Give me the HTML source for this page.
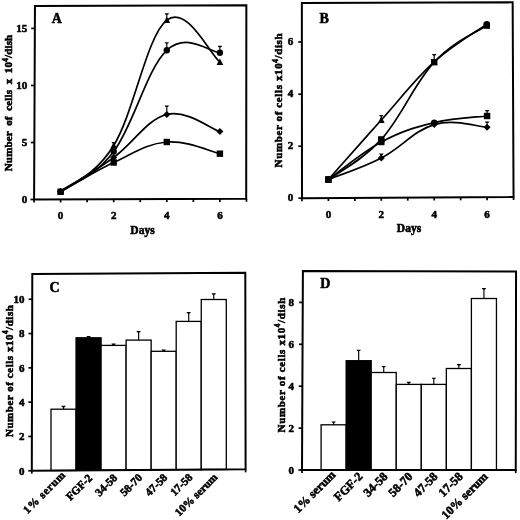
<!DOCTYPE html>
<html><head><meta charset="utf-8"><style>
html,body{margin:0;padding:0;background:#fff;width:520px;height:520px;overflow:hidden;}
svg{display:block;filter:blur(0.35px);}
</style></head><body>
<svg width="520" height="520" viewBox="0 0 520 520">
<rect width="520" height="520" fill="#fff"/>
<path d="M34.95,5.95 L246.35,5.2 L246.2,198.8 L34.1,199.55 Z" stroke="#000" stroke-width="2" fill="none" stroke-linejoin="miter"/>
<path d="M30.5,199.5 H34.1" stroke="#000" stroke-width="1.7"/>
<text x="27.2" y="203.2" font-size="11" text-anchor="end" font-family="Liberation Serif, serif" font-weight="bold" stroke="#000" stroke-width="0.55" >0</text>
<path d="M30.75,142.5 H34.35" stroke="#000" stroke-width="1.7"/>
<text x="27.2" y="146.2" font-size="11" text-anchor="end" font-family="Liberation Serif, serif" font-weight="bold" stroke="#000" stroke-width="0.55" >5</text>
<path d="M31,85.5 H34.6" stroke="#000" stroke-width="1.7"/>
<text x="27.2" y="89.2" font-size="11" text-anchor="end" font-family="Liberation Serif, serif" font-weight="bold" stroke="#000" stroke-width="0.55" >10</text>
<path d="M31.25,28.4 H34.85" stroke="#000" stroke-width="1.7"/>
<text x="27.2" y="32.1" font-size="11" text-anchor="end" font-family="Liberation Serif, serif" font-weight="bold" stroke="#000" stroke-width="0.55" >15</text>
<path d="M34.05,199.55 V202.55" stroke="#000" stroke-width="1.7"/>
<path d="M60.6,199.46 V202.46" stroke="#000" stroke-width="1.7"/>
<path d="M87.15,199.36 V202.36" stroke="#000" stroke-width="1.7"/>
<path d="M113.7,199.27 V202.27" stroke="#000" stroke-width="1.7"/>
<path d="M140.25,199.17 V202.17" stroke="#000" stroke-width="1.7"/>
<path d="M166.8,199.08 V202.08" stroke="#000" stroke-width="1.7"/>
<path d="M193.35,198.99 V201.99" stroke="#000" stroke-width="1.7"/>
<path d="M219.9,198.89 V201.89" stroke="#000" stroke-width="1.7"/>
<path d="M246.45,198.8 V201.8" stroke="#000" stroke-width="1.7"/>
<text x="60.6" y="218.8" font-size="11" text-anchor="middle" font-family="Liberation Serif, serif" font-weight="bold" stroke="#000" stroke-width="0.55" >0</text>
<text x="113.7" y="218.8" font-size="11" text-anchor="middle" font-family="Liberation Serif, serif" font-weight="bold" stroke="#000" stroke-width="0.55" >2</text>
<text x="166.8" y="218.8" font-size="11" text-anchor="middle" font-family="Liberation Serif, serif" font-weight="bold" stroke="#000" stroke-width="0.55" >4</text>
<text x="219.9" y="218.8" font-size="11" text-anchor="middle" font-family="Liberation Serif, serif" font-weight="bold" stroke="#000" stroke-width="0.55" >6</text>
<text x="142.5" y="233.5" font-size="11.5" text-anchor="middle" font-family="Liberation Serif, serif" font-weight="bold" stroke="#000" stroke-width="0.55" >Days</text>
<text x="51.8" y="22.8" font-size="14" text-anchor="start" font-family="Liberation Serif, serif" font-weight="bold" stroke="#000" stroke-width="0.55" >A</text>
<text transform="translate(12.4,103) rotate(-90)" font-size="11" text-anchor="middle" font-family="Liberation Serif, serif" font-weight="bold" stroke="#000" stroke-width="0.55" word-spacing="2.6" textLength="136.5" lengthAdjust="spacing">Number of cells x 10<tspan dy="-4.3" font-size="7.2">4</tspan><tspan dy="4.3">/dish</tspan></text>
<path d="M60.6,191.6 C70.69,182.84 93.52,178.07 113.7,145.5 C133.88,112.93 146.62,36.05 166.8,20.2 C186.98,4.35 209.81,54.14 219.9,62.1" stroke="#000" stroke-width="1.7" fill="none"/>
<path d="M60.6,191.6 C70.69,183.98 93.52,178.35 113.7,151.5 C133.88,124.65 146.62,69.07 166.8,50.3 C186.98,31.53 209.81,52.24 219.9,52.7" stroke="#000" stroke-width="1.7" fill="none"/>
<path d="M60.6,191.6 C70.69,185.12 93.52,172.15 113.7,157.5 C133.88,142.85 146.62,119.42 166.8,114.5 C186.98,109.58 209.81,128.35 219.9,131.6" stroke="#000" stroke-width="1.7" fill="none"/>
<path d="M60.6,191.8 C70.69,186.23 93.52,171.96 113.7,162.5 C133.88,153.04 146.62,143.67 166.8,142 C186.98,140.33 209.81,151.48 219.9,153.7" stroke="#000" stroke-width="1.7" fill="none"/>
<path d="M166.8,20.2 V14.05" stroke="#000" stroke-width="1.15" fill="none"/><path d="M164.6,13.35 H169 L168.12,14.75 H165.48 Z" fill="#000"/>
<path d="M166.8,50.3 V42.9" stroke="#000" stroke-width="1.15" fill="none"/><path d="M164.6,42.2 H169 L168.12,43.6 H165.48 Z" fill="#000"/>
<path d="M219.9,52.7 V46.5" stroke="#000" stroke-width="1.15" fill="none"/><path d="M217.7,45.8 H222.1 L221.22,47.2 H218.58 Z" fill="#000"/>
<path d="M166.8,114.5 V106.2" stroke="#000" stroke-width="1.15" fill="none"/><path d="M164.6,105.5 H169 L168.12,106.9 H165.48 Z" fill="#000"/>
<path d="M113.7,145.5 V142.7" stroke="#000" stroke-width="1.15" fill="none"/><path d="M111.5,142 H115.9 L115.02,143.4 H112.38 Z" fill="#000"/>
<path d="M60.6,188.08 L63.96,194.48 L57.24,194.48 Z"/>
<path d="M113.7,141.98 L117.06,148.38 L110.34,148.38 Z"/>
<path d="M166.8,16.68 L170.16,23.08 L163.44,23.08 Z"/>
<path d="M219.9,58.58 L223.26,64.98 L216.54,64.98 Z"/>
<circle cx="60.6" cy="191.6" r="3.2"/>
<circle cx="113.7" cy="151.5" r="3.2"/>
<circle cx="166.8" cy="50.3" r="3.2"/>
<circle cx="219.9" cy="52.7" r="3.2"/>
<path d="M60.6,188.08 L64.12,191.6 L60.6,195.12 L57.08,191.6 Z"/>
<path d="M113.7,153.98 L117.22,157.5 L113.7,161.02 L110.18,157.5 Z"/>
<path d="M166.8,110.98 L170.32,114.5 L166.8,118.02 L163.28,114.5 Z"/>
<path d="M219.9,128.08 L223.42,131.6 L219.9,135.12 L216.38,131.6 Z"/>
<rect x="57.4" y="188.6" width="6.4" height="6.4"/>
<rect x="110.5" y="159.3" width="6.4" height="6.4"/>
<rect x="163.6" y="138.8" width="6.4" height="6.4"/>
<rect x="216.7" y="150.5" width="6.4" height="6.4"/>
<path d="M301.85,3 L512.65,2.3 L513.55,197.05 L302,198.2 Z" stroke="#000" stroke-width="2" fill="none" stroke-linejoin="miter"/>
<path d="M298.4,198.2 H302" stroke="#000" stroke-width="1.7"/>
<text x="293.3" y="201.2" font-size="11" text-anchor="end" font-family="Liberation Serif, serif" font-weight="bold" stroke="#000" stroke-width="0.55" >0</text>
<path d="M298.36,146.2 H301.96" stroke="#000" stroke-width="1.7"/>
<text x="293.3" y="149.2" font-size="11" text-anchor="end" font-family="Liberation Serif, serif" font-weight="bold" stroke="#000" stroke-width="0.55" >2</text>
<path d="M298.32,94.2 H301.92" stroke="#000" stroke-width="1.7"/>
<text x="293.3" y="97.2" font-size="11" text-anchor="end" font-family="Liberation Serif, serif" font-weight="bold" stroke="#000" stroke-width="0.55" >4</text>
<path d="M298.28,42 H301.88" stroke="#000" stroke-width="1.7"/>
<text x="293.3" y="45" font-size="11" text-anchor="end" font-family="Liberation Serif, serif" font-weight="bold" stroke="#000" stroke-width="0.55" >6</text>
<path d="M301.95,198.2 V201.2" stroke="#000" stroke-width="1.7"/>
<path d="M328.4,198.06 V201.06" stroke="#000" stroke-width="1.7"/>
<path d="M354.85,197.91 V200.91" stroke="#000" stroke-width="1.7"/>
<path d="M381.3,197.77 V200.77" stroke="#000" stroke-width="1.7"/>
<path d="M407.75,197.63 V200.63" stroke="#000" stroke-width="1.7"/>
<path d="M434.2,197.48 V200.48" stroke="#000" stroke-width="1.7"/>
<path d="M460.65,197.34 V200.34" stroke="#000" stroke-width="1.7"/>
<path d="M487.1,197.19 V200.19" stroke="#000" stroke-width="1.7"/>
<path d="M513.55,197.05 V200.05" stroke="#000" stroke-width="1.7"/>
<text x="328.4" y="217.7" font-size="11" text-anchor="middle" font-family="Liberation Serif, serif" font-weight="bold" stroke="#000" stroke-width="0.55" >0</text>
<text x="381.3" y="217.7" font-size="11" text-anchor="middle" font-family="Liberation Serif, serif" font-weight="bold" stroke="#000" stroke-width="0.55" >2</text>
<text x="434.2" y="217.7" font-size="11" text-anchor="middle" font-family="Liberation Serif, serif" font-weight="bold" stroke="#000" stroke-width="0.55" >4</text>
<text x="487.1" y="217.7" font-size="11" text-anchor="middle" font-family="Liberation Serif, serif" font-weight="bold" stroke="#000" stroke-width="0.55" >6</text>
<text x="409" y="232.2" font-size="11.5" text-anchor="middle" font-family="Liberation Serif, serif" font-weight="bold" stroke="#000" stroke-width="0.55" >Days</text>
<text x="319.6" y="22.6" font-size="14" text-anchor="start" font-family="Liberation Serif, serif" font-weight="bold" stroke="#000" stroke-width="0.55" >B</text>
<text transform="translate(282.3,100.4) rotate(-90)" font-size="11" text-anchor="middle" font-family="Liberation Serif, serif" font-weight="bold" stroke="#000" stroke-width="0.55" word-spacing="0" textLength="134" lengthAdjust="spacing">Number of cells x10<tspan dy="-4.3" font-size="7.2">4</tspan><tspan dy="4.3">/dish</tspan></text>
<path d="M328.4,179.5 C338.45,168.19 361.2,142.34 381.3,120 C401.4,97.66 414.15,80.1 434.2,61.9 C454.25,43.7 476.81,31.36 486.8,24.2" stroke="#000" stroke-width="1.7" fill="none"/>
<path d="M328.4,179.5 C338.45,171.88 361.2,161.69 381.3,139.4 C401.4,117.11 414.15,83.82 434.2,62.2 C454.25,40.58 476.81,32.55 486.8,25.6" stroke="#000" stroke-width="1.7" fill="none"/>
<path d="M328.4,179.5 C338.45,172.38 361.2,152.81 381.3,142 C401.4,131.19 414.1,127.54 434.2,122.6 C454.3,117.66 477.05,117.25 487.1,116" stroke="#000" stroke-width="1.7" fill="none"/>
<path d="M328.4,179.5 C338.45,175.41 361.2,168.43 381.3,158 C401.4,147.57 414.1,130.45 434.2,124.6 C454.3,118.75 477.05,126.71 487.1,127.2" stroke="#000" stroke-width="1.7" fill="none"/>
<path d="M434.2,61.9 V54.8" stroke="#000" stroke-width="1.15" fill="none"/><path d="M432,54.1 H436.4 L435.52,55.5 H432.88 Z" fill="#000"/>
<path d="M381.3,120.2 V115.7" stroke="#000" stroke-width="1.15" fill="none"/><path d="M379.1,115 H383.5 L382.62,116.4 H379.98 Z" fill="#000"/>
<path d="M487.1,116 V110.7" stroke="#000" stroke-width="1.15" fill="none"/><path d="M484.9,110 H489.3 L488.42,111.4 H485.78 Z" fill="#000"/>
<path d="M487.1,127.2 V122.2" stroke="#000" stroke-width="1.15" fill="none"/><path d="M484.9,121.5 H489.3 L488.42,122.9 H485.78 Z" fill="#000"/>
<path d="M381.3,157.9 V154.2" stroke="#000" stroke-width="1.15" fill="none"/><path d="M379.1,153.5 H383.5 L382.62,154.9 H379.98 Z" fill="#000"/>
<path d="M328.4,175.98 L331.76,182.38 L325.04,182.38 Z"/>
<path d="M381.3,116.48 L384.66,122.88 L377.94,122.88 Z"/>
<path d="M434.2,58.38 L437.56,64.78 L430.84,64.78 Z"/>
<circle cx="486.8" cy="24.2" r="3.2"/>
<rect x="325.2" y="176.3" width="6.4" height="6.4"/>
<rect x="378.1" y="136.2" width="6.4" height="6.4"/>
<rect x="431" y="59" width="6.4" height="6.4"/>
<rect x="483.6" y="22.4" width="6.4" height="6.4"/>
<rect x="325.2" y="176.3" width="6.4" height="6.4"/>
<rect x="378.1" y="138.8" width="6.4" height="6.4"/>
<circle cx="434.2" cy="122.6" r="3.2"/>
<rect x="483.9" y="112.8" width="6.4" height="6.4"/>
<path d="M328.4,175.98 L331.92,179.5 L328.4,183.02 L324.88,179.5 Z"/>
<path d="M381.3,154.48 L384.82,158 L381.3,161.52 L377.78,158 Z"/>
<path d="M434.2,121.08 L437.72,124.6 L434.2,128.12 L430.68,124.6 Z"/>
<path d="M487.1,123.68 L490.62,127.2 L487.1,130.72 L483.58,127.2 Z"/>
<rect x="51" y="409.2" width="25.04" height="61.26" fill="#fff" stroke="#000" stroke-width="1.3"/>
<path d="M63.52,409.2 V406.5" stroke="#000" stroke-width="1.15" fill="none"/><path d="M61.32,405.8 H65.72 L64.84,407.2 H62.2 Z" fill="#000"/>
<rect x="76.04" y="337.8" width="25.04" height="132.5" fill="#000" stroke="#000" stroke-width="1.3"/>
<path d="M88.56,337.8 V336.6" stroke="#000" stroke-width="1.15" fill="none"/><path d="M86.36,335.9 H90.76 L89.88,337.3 H87.24 Z" fill="#000"/>
<rect x="101.08" y="345.4" width="25.04" height="124.75" fill="#fff" stroke="#000" stroke-width="1.3"/>
<path d="M113.6,345.4 V344.2" stroke="#000" stroke-width="1.15" fill="none"/><path d="M111.4,343.5 H115.8 L114.92,344.9 H112.28 Z" fill="#000"/>
<rect x="126.12" y="340.1" width="25.04" height="129.9" fill="#fff" stroke="#000" stroke-width="1.3"/>
<path d="M138.64,340.1 V331.8" stroke="#000" stroke-width="1.15" fill="none"/><path d="M136.44,331.1 H140.84 L139.96,332.5 H137.32 Z" fill="#000"/>
<rect x="151.16" y="351.3" width="25.04" height="118.55" fill="#fff" stroke="#000" stroke-width="1.3"/>
<path d="M163.68,351.3 V350.2" stroke="#000" stroke-width="1.15" fill="none"/><path d="M161.48,349.5 H165.88 L165,350.9 H162.36 Z" fill="#000"/>
<rect x="176.2" y="321.4" width="25.04" height="148.3" fill="#fff" stroke="#000" stroke-width="1.3"/>
<path d="M188.72,321.4 V312.7" stroke="#000" stroke-width="1.15" fill="none"/><path d="M186.52,312 H190.92 L190.04,313.4 H187.4 Z" fill="#000"/>
<rect x="201.24" y="299.5" width="25.04" height="170.04" fill="#fff" stroke="#000" stroke-width="1.3"/>
<path d="M213.76,299.5 V294" stroke="#000" stroke-width="1.15" fill="none"/><path d="M211.56,293.3 H215.96 L215.08,294.7 H212.44 Z" fill="#000"/>
<path d="M32.3,274.05 L245.3,272.8 L245.6,469.35 L31.8,470.65 Z" stroke="#000" stroke-width="2" fill="none" stroke-linejoin="miter"/>
<path d="M31.8,470.65 V473.65" stroke="#000" stroke-width="1.7"/>
<path d="M245.6,469.35 V472.35" stroke="#000" stroke-width="1.7"/>
<path d="M28.2,470.75 H31.8" stroke="#000" stroke-width="1.7"/>
<text x="24.4" y="474.55" font-size="11" text-anchor="end" font-family="Liberation Serif, serif" font-weight="bold" stroke="#000" stroke-width="0.55" >0</text>
<path d="M28.29,436.45 H31.89" stroke="#000" stroke-width="1.7"/>
<text x="24.4" y="440.25" font-size="11" text-anchor="end" font-family="Liberation Serif, serif" font-weight="bold" stroke="#000" stroke-width="0.55" >2</text>
<path d="M28.37,402.15 H31.97" stroke="#000" stroke-width="1.7"/>
<text x="24.4" y="405.95" font-size="11" text-anchor="end" font-family="Liberation Serif, serif" font-weight="bold" stroke="#000" stroke-width="0.55" >4</text>
<path d="M28.46,367.85 H32.06" stroke="#000" stroke-width="1.7"/>
<text x="24.4" y="371.65" font-size="11" text-anchor="end" font-family="Liberation Serif, serif" font-weight="bold" stroke="#000" stroke-width="0.55" >6</text>
<path d="M28.55,333.55 H32.15" stroke="#000" stroke-width="1.7"/>
<text x="24.4" y="337.35" font-size="11" text-anchor="end" font-family="Liberation Serif, serif" font-weight="bold" stroke="#000" stroke-width="0.55" >8</text>
<path d="M28.64,299.25 H32.24" stroke="#000" stroke-width="1.7"/>
<text x="24.4" y="303.05" font-size="11" text-anchor="end" font-family="Liberation Serif, serif" font-weight="bold" stroke="#000" stroke-width="0.55" >10</text>
<text x="49.4" y="291.8" font-size="14" text-anchor="start" font-family="Liberation Serif, serif" font-weight="bold" stroke="#000" stroke-width="0.55" >C</text>
<text transform="translate(12.7,371.1) rotate(-90)" font-size="11" text-anchor="middle" font-family="Liberation Serif, serif" font-weight="bold" stroke="#000" stroke-width="0.55" word-spacing="0" textLength="132" lengthAdjust="spacing">Number of cells x10<tspan dy="-4.3" font-size="7.2">4</tspan><tspan dy="4.3">/dish</tspan></text>
<text transform="translate(65.92,475.84) rotate(-45)" font-size="11.2" text-anchor="end" font-family="Liberation Serif, serif" font-weight="bold" stroke="#000" stroke-width="0.55" textLength="54.2">1% serum</text>
<text transform="translate(92.96,478.68) rotate(-45)" font-size="11.2" text-anchor="end" font-family="Liberation Serif, serif" font-weight="bold" stroke="#000" stroke-width="0.55">FGF-2</text>
<text transform="translate(118,478.53) rotate(-45)" font-size="11.2" text-anchor="end" font-family="Liberation Serif, serif" font-weight="bold" stroke="#000" stroke-width="0.55">34-58</text>
<text transform="translate(143.04,478.37) rotate(-45)" font-size="11.2" text-anchor="end" font-family="Liberation Serif, serif" font-weight="bold" stroke="#000" stroke-width="0.55">58-70</text>
<text transform="translate(168.08,478.22) rotate(-45)" font-size="11.2" text-anchor="end" font-family="Liberation Serif, serif" font-weight="bold" stroke="#000" stroke-width="0.55">47-58</text>
<text transform="translate(193.12,478.07) rotate(-45)" font-size="11.2" text-anchor="end" font-family="Liberation Serif, serif" font-weight="bold" stroke="#000" stroke-width="0.55">17-58</text>
<text transform="translate(218.16,477.92) rotate(-45)" font-size="11.2" text-anchor="end" font-family="Liberation Serif, serif" font-weight="bold" stroke="#000" stroke-width="0.55">10% serum</text>
<rect x="321.1" y="424.8" width="25.05" height="45.16" fill="#fff" stroke="#000" stroke-width="1.3"/>
<path d="M333.62,424.8 V422.1" stroke="#000" stroke-width="1.15" fill="none"/><path d="M331.43,421.4 H335.82 L334.94,422.8 H332.31 Z" fill="#000"/>
<rect x="346.15" y="360.7" width="25.05" height="109.26" fill="#000" stroke="#000" stroke-width="1.3"/>
<path d="M358.68,360.7 V350.4" stroke="#000" stroke-width="1.15" fill="none"/><path d="M356.48,349.7 H360.88 L360,351.1 H357.36 Z" fill="#000"/>
<rect x="371.2" y="372.5" width="25.05" height="97.47" fill="#fff" stroke="#000" stroke-width="1.3"/>
<path d="M383.73,372.5 V366.6" stroke="#000" stroke-width="1.15" fill="none"/><path d="M381.53,365.9 H385.93 L385.05,367.3 H382.41 Z" fill="#000"/>
<rect x="396.25" y="384.4" width="25.05" height="85.57" fill="#fff" stroke="#000" stroke-width="1.3"/>
<path d="M408.77,384.4 V382.5" stroke="#000" stroke-width="1.15" fill="none"/><path d="M406.57,381.8 H410.97 L410.09,383.2 H407.45 Z" fill="#000"/>
<rect x="421.3" y="384.4" width="25.05" height="85.58" fill="#fff" stroke="#000" stroke-width="1.3"/>
<path d="M433.83,384.4 V378.4" stroke="#000" stroke-width="1.15" fill="none"/><path d="M431.63,377.7 H436.03 L435.15,379.1 H432.51 Z" fill="#000"/>
<rect x="446.35" y="368.5" width="25.05" height="101.49" fill="#fff" stroke="#000" stroke-width="1.3"/>
<path d="M458.88,368.5 V364.75" stroke="#000" stroke-width="1.15" fill="none"/><path d="M456.68,364.05 H461.07 L460.19,365.45 H457.56 Z" fill="#000"/>
<rect x="471.4" y="298.5" width="25.05" height="171.49" fill="#fff" stroke="#000" stroke-width="1.3"/>
<path d="M483.93,298.5 V288.75" stroke="#000" stroke-width="1.15" fill="none"/><path d="M481.73,288.05 H486.13 L485.25,289.45 H482.61 Z" fill="#000"/>
<path d="M302.9,271.1 L516.05,271.55 L515.75,470 L302,469.95 Z" stroke="#000" stroke-width="2" fill="none" stroke-linejoin="miter"/>
<path d="M302,469.95 V472.95" stroke="#000" stroke-width="1.7"/>
<path d="M515.75,470 V473" stroke="#000" stroke-width="1.7"/>
<path d="M298.4,470 H302" stroke="#000" stroke-width="1.7"/>
<text x="294" y="473.7" font-size="11" text-anchor="end" font-family="Liberation Serif, serif" font-weight="bold" stroke="#000" stroke-width="0.55" >0</text>
<path d="M298.59,428.1 H302.19" stroke="#000" stroke-width="1.7"/>
<text x="294" y="431.8" font-size="11" text-anchor="end" font-family="Liberation Serif, serif" font-weight="bold" stroke="#000" stroke-width="0.55" >2</text>
<path d="M298.78,386.2 H302.38" stroke="#000" stroke-width="1.7"/>
<text x="294" y="389.9" font-size="11" text-anchor="end" font-family="Liberation Serif, serif" font-weight="bold" stroke="#000" stroke-width="0.55" >4</text>
<path d="M298.97,344.3 H302.57" stroke="#000" stroke-width="1.7"/>
<text x="294" y="348" font-size="11" text-anchor="end" font-family="Liberation Serif, serif" font-weight="bold" stroke="#000" stroke-width="0.55" >6</text>
<path d="M299.16,302.4 H302.76" stroke="#000" stroke-width="1.7"/>
<text x="294" y="306.1" font-size="11" text-anchor="end" font-family="Liberation Serif, serif" font-weight="bold" stroke="#000" stroke-width="0.55" >8</text>
<text x="320.3" y="287.6" font-size="14" text-anchor="start" font-family="Liberation Serif, serif" font-weight="bold" stroke="#000" stroke-width="0.55" >D</text>
<text transform="translate(284.6,365.05) rotate(-90)" font-size="11" text-anchor="middle" font-family="Liberation Serif, serif" font-weight="bold" stroke="#000" stroke-width="0.55" word-spacing="0" textLength="134.8" lengthAdjust="spacing">Number of cells x10<tspan dy="-4.3" font-size="7.2">4</tspan><tspan dy="4.3">/dish</tspan></text>
<text transform="translate(336.23,475.46) rotate(-45)" font-size="12.2" text-anchor="end" font-family="Liberation Serif, serif" font-weight="bold" stroke="#000" stroke-width="0.55">1% serum</text>
<text transform="translate(363.28,477.26) rotate(-45)" font-size="12.2" text-anchor="end" font-family="Liberation Serif, serif" font-weight="bold" stroke="#000" stroke-width="0.55">FGF-2</text>
<text transform="translate(388.33,477.27) rotate(-45)" font-size="12.2" text-anchor="end" font-family="Liberation Serif, serif" font-weight="bold" stroke="#000" stroke-width="0.55">34-58</text>
<text transform="translate(413.38,477.28) rotate(-45)" font-size="12.2" text-anchor="end" font-family="Liberation Serif, serif" font-weight="bold" stroke="#000" stroke-width="0.55">58-70</text>
<text transform="translate(438.43,477.28) rotate(-45)" font-size="12.2" text-anchor="end" font-family="Liberation Serif, serif" font-weight="bold" stroke="#000" stroke-width="0.55">47-58</text>
<text transform="translate(463.48,477.29) rotate(-45)" font-size="12.2" text-anchor="end" font-family="Liberation Serif, serif" font-weight="bold" stroke="#000" stroke-width="0.55">17-58</text>
<text transform="translate(488.53,477.29) rotate(-45)" font-size="12.2" text-anchor="end" font-family="Liberation Serif, serif" font-weight="bold" stroke="#000" stroke-width="0.55">10% serum</text>
</svg>
</body></html>
